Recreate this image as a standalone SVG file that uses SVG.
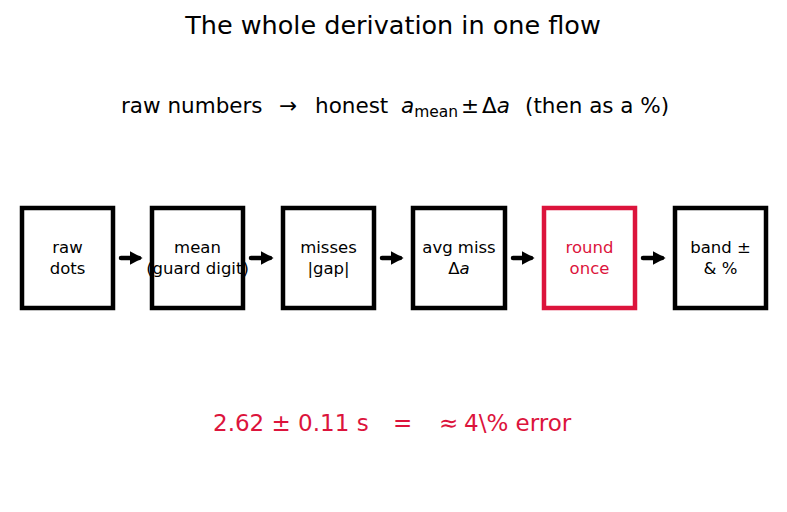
<svg xmlns="http://www.w3.org/2000/svg" width="787" height="512" viewBox="0 0 787 512">
<style>
text{font-family:"DejaVu Sans","Liberation Sans",sans-serif;}
.box{fill:#fff;stroke:#000;stroke-width:4.5;}
.hl{stroke:#DC143C;}
.lbl{font-size:16.5px;text-anchor:middle;fill:#000;}
.lblr{fill:#DC143C;}
.arr{stroke:#000;stroke-width:4.5;stroke-linecap:round;fill:none;marker-end:url(#ah);}
</style>
<defs>
<marker id="ah" markerWidth="4" markerHeight="4" refX="2" refY="2" orient="auto" markerUnits="strokeWidth">
<path d="M0,0.5 L2.8,2 L0,3.5 Z" fill="#000"/>
</marker>
</defs>
<rect width="787" height="512" fill="#fff"/>
<text x="393" y="34" font-size="25.5" text-anchor="middle">The whole derivation in one flow</text>
<text y="113" font-size="21.5"><tspan x="121">raw numbers</tspan><tspan x="279">→</tspan><tspan x="315">honest</tspan><tspan x="401" font-style="italic">a</tspan><tspan font-size="15.5" dy="4">mean</tspan><tspan x="461" dy="-4">±</tspan><tspan x="482">Δ</tspan><tspan font-style="italic">a</tspan><tspan x="525">(then as a %)</tspan></text>
<g id="n1"><rect class="box" x="22" y="208" width="91" height="100"/><text class="lbl" x="67.5" y="253">raw</text><text class="lbl" x="67.5" y="274">dots</text></g>
<g id="n2"><rect class="box" x="152" y="208" width="91" height="100"/><text class="lbl" x="197.5" y="253">mean</text><text class="lbl" x="197.5" y="274">(guard digit)</text></g>
<g id="n3"><rect class="box" x="283" y="208" width="91" height="100"/><text class="lbl" x="328.5" y="253">misses</text><text class="lbl" x="328.5" y="274">|gap|</text></g>
<g id="n4"><rect class="box" x="413" y="208" width="92" height="100"/><text class="lbl" x="459" y="253">avg miss</text><text class="lbl" x="459" y="274">Δ<tspan font-style="italic">a</tspan></text></g>
<g id="n5"><rect class="box hl" x="544" y="208" width="91" height="100"/><text class="lbl lblr" x="589.5" y="253">round</text><text class="lbl lblr" x="589.5" y="274">once</text></g>
<g id="n6"><rect class="box" x="675" y="208" width="91" height="100"/><text class="lbl" x="720.5" y="253">band ±</text><text class="lbl" x="720.5" y="274">&amp; %</text></g>
<g id="connectors">
<line class="arr" x1="121" y1="258" x2="139" y2="258"/>
<line class="arr" x1="251" y1="258" x2="270" y2="258"/>
<line class="arr" x1="382" y1="258" x2="400" y2="258"/>
<line class="arr" x1="513" y1="258" x2="531" y2="258"/>
<line class="arr" x1="643" y1="258" x2="662" y2="258"/>
</g>
<text y="431" font-size="23" fill="#DC143C"><tspan x="213">2.62 ± 0.11 s</tspan><tspan x="393">=</tspan><tspan x="439">≈</tspan><tspan x="464">4\% error</tspan></text>
</svg>
